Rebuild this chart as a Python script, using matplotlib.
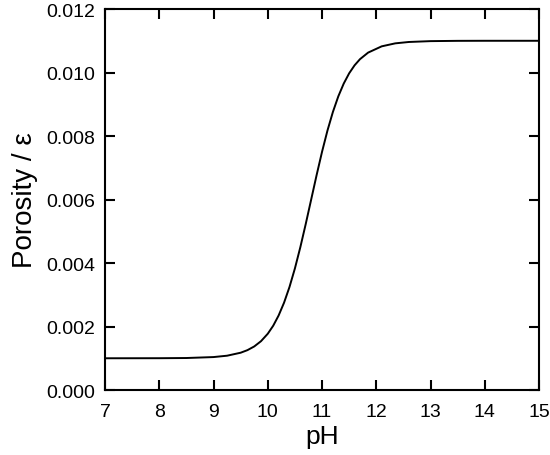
import numpy as np
import matplotlib
matplotlib.use('Agg')
import matplotlib.pyplot as plt

plt.rcParams['font.family'] = ['Liberation Sans', 'DejaVu Sans']

# values
ph = [7.0, 8.0, 8.5, 9.0, 9.25, 9.5, 9.625, 9.75, 9.875, 10.0, 10.1, 10.2, 10.3,
      10.4, 10.5, 10.6, 10.7, 10.8, 10.9, 11.0, 11.1, 11.2, 11.3, 11.4, 11.5,
      11.6, 11.7, 11.85, 12.1, 12.35, 12.6, 13.0, 13.5, 14.0, 15.0]
porosity = [0.001000, 0.001002, 0.001008, 0.001038, 0.001081, 0.001175, 0.001256,
            0.001372, 0.001538, 0.001773, 0.002025, 0.002348, 0.002751, 0.003244,
            0.003829, 0.004498, 0.005232, 0.006000, 0.006768, 0.007502, 0.008171,
            0.008756, 0.009249, 0.009652, 0.009975, 0.010227, 0.010421, 0.010628,
            0.010825, 0.010919, 0.010962, 0.010989, 0.010998, 0.011000, 0.011000]

xticks = [7, 8, 9, 10, 11, 12, 13, 14, 15]
yticks = [0.000, 0.002, 0.004, 0.006, 0.008, 0.010, 0.012]

fig = plt.figure(figsize=(5.5, 4.56), dpi=100)
ax = fig.add_axes([0.191, 0.1425, 0.789, 0.8355])

ax.plot(ph, porosity, color='black', lw=1.4)

ax.set_xlim(7, 15)
ax.set_ylim(0, 0.012)
ax.set_xticks(xticks)
ax.set_yticks(yticks)
ax.set_yticklabels(['%.3f' % v for v in yticks])
ax.tick_params(direction='in', length=7, width=1.5, labelsize=14,
               top=True, right=True)
ax.tick_params(axis='x', pad=9)
ax.tick_params(axis='y', pad=7)
for s in ax.spines.values():
    s.set_linewidth(1.5)

ax.set_xlabel('pH', fontsize=19, labelpad=3)
ax.set_ylabel('Porosity / ε', fontsize=20, labelpad=6)

fig.savefig('out.png', dpi=100)
